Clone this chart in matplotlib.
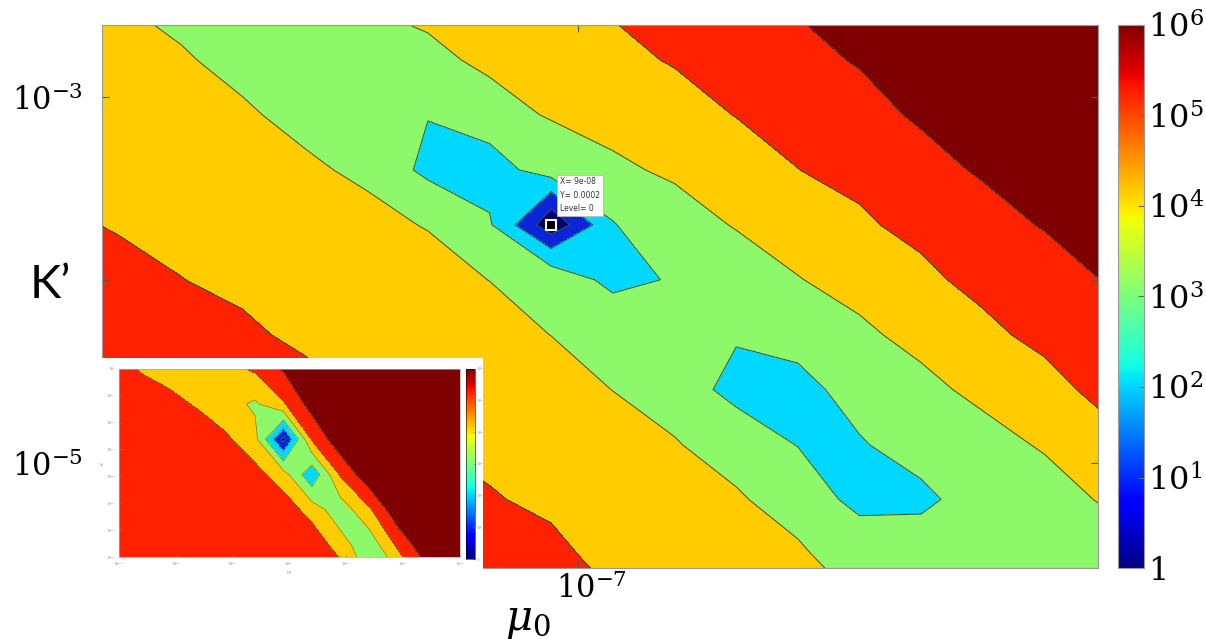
import numpy as np
import matplotlib.pyplot as plt
from matplotlib.colors import LogNorm
from matplotlib.cm import ScalarMappable
from matplotlib.ticker import NullLocator
import matplotlib.transforms as mtransforms

plt.rcParams['mathtext.fontset'] = 'dejavuserif'

# main misfit map: log10(misfit), rows top -> bottom
mu_steps = np.arange(-8, 10)
K_steps = np.arange(4, -8, -1)
mu = 9e-8 * 10 ** (0.1045 * mu_steps)
K = 2e-4 * 10 ** (0.3 * K_steps)
log_misfit = np.array([
    [4.21, 4.04, 3.67, 3.37, 3.71, 4.01, 4.23, 4.54, 4.85, 5.14, 5.46, 5.77, 6.10, 6.46, 6.70, 6.70, 6.70, 6.70],
    [4.44, 4.26, 4.09, 3.71, 3.32, 3.58, 3.84, 4.15, 4.45, 4.73, 5.09, 5.40, 5.73, 6.08, 6.57, 6.70, 6.70, 6.70],
    [4.66, 4.49, 4.32, 4.10, 3.76, 3.44, 3.05, 3.76, 4.06, 4.29, 4.61, 5.03, 5.36, 5.69, 6.14, 6.52, 6.70, 6.70],
    [4.89, 4.72, 4.54, 4.35, 4.11, 3.86, 2.70, 2.50, 3.60, 3.89, 4.11, 4.54, 4.99, 5.30, 5.71, 6.11, 6.47, 6.70],
    [5.11, 4.94, 4.78, 4.60, 4.37, 4.17, 3.96, 3.10, 0.25, 2.95, 3.76, 4.04, 4.47, 4.87, 5.29, 5.70, 6.06, 6.43],
    [5.33, 5.17, 5.01, 4.85, 4.63, 4.43, 4.23, 3.99, 3.63, 2.70, 3.10, 3.73, 3.97, 4.30, 4.81, 5.29, 5.66, 6.04],
    [5.56, 5.40, 5.24, 5.09, 4.88, 4.68, 4.48, 4.26, 3.99, 3.67, 3.44, 3.20, 3.68, 3.88, 4.22, 4.81, 5.25, 5.66],
    [5.78, 5.62, 5.47, 5.34, 5.14, 4.94, 4.74, 4.52, 4.28, 3.99, 3.74, 2.50, 2.55, 3.62, 3.85, 4.16, 4.74, 5.27],
    [5.80, 5.80, 5.70, 5.59, 5.40, 5.19, 4.99, 4.79, 4.57, 4.26, 4.03, 3.76, 2.95, 2.90, 3.60, 3.82, 4.06, 4.78],
    [5.80, 5.80, 5.80, 5.80, 5.65, 5.44, 5.25, 5.05, 4.85, 4.52, 4.27, 4.05, 3.78, 2.55, 2.75, 3.59, 3.80, 4.06],
    [5.80, 5.80, 5.80, 5.80, 5.80, 5.70, 5.50, 5.32, 5.14, 4.79, 4.50, 4.30, 4.06, 3.76, 3.49, 3.35, 3.57, 3.80],
    [5.80, 5.80, 5.80, 5.80, 5.80, 5.80, 5.75, 5.58, 5.42, 5.06, 4.73, 4.55, 4.31, 4.02, 3.74, 3.48, 3.34, 3.58],
])

# data tip
tip_mu, tip_K, tip_level = 9e-8, 2e-4, 0

# inset (wider view), log10 axes, rows top -> bottom
inset_mu_exp = -10.1 + 0.5 * np.arange(14)
inset_K_exp = -1.3125 * np.arange(7)
inset_log_misfit = np.array([
    [5.55, 4.87, 4.48, 4.30, 4.68, 5.16, 6.10, 6.70, 6.70, 6.70, 6.70, 6.70, 6.70, 6.70],
    [5.80, 5.80, 5.37, 4.85, 4.34, 3.85, 4.89, 6.42, 6.70, 6.70, 6.70, 6.70, 6.70, 6.70],
    [5.80, 5.80, 5.80, 5.80, 5.15, 4.31, 0.70, 5.10, 6.70, 6.70, 6.70, 6.70, 6.70, 6.70],
    [5.80, 5.80, 5.80, 5.80, 5.80, 5.34, 4.43, 2.20, 5.10, 6.70, 6.70, 6.70, 6.70, 6.70],
    [5.80, 5.80, 5.80, 5.80, 5.80, 5.80, 5.62, 4.55, 3.39, 4.80, 6.70, 6.70, 6.70, 6.70],
    [5.80, 5.80, 5.80, 5.80, 5.80, 5.80, 5.80, 5.80, 4.45, 3.30, 5.15, 6.70, 6.70, 6.70],
    [5.80, 5.80, 5.80, 5.80, 5.80, 5.80, 5.80, 5.80, 5.80, 3.90, 3.59, 5.40, 6.70, 6.70],
])

levels = [0, 1, 2, 3, 4, 5, 6, 7]
band_colors = ['#00006e', '#0a24d8', '#00d8ff', '#8cf86a', '#ffcc00', '#ff2200', '#7f0000']
cbar_ticks = [1, 10, 100, 1e3, 1e4, 1e5, 1e6]
cbar_labels = ['$1$', '$10^1$', '$10^2$', '$10^3$', '$10^4$', '$10^5$', '$10^6$']

W, H = 1206, 639
fig = plt.figure(figsize=(W / 100, H / 100), dpi=100)

# --- main map
ax = fig.add_axes([102 / W, 1 - 568 / H, 996 / W, 543 / H])
MU, KK = np.meshgrid(mu, K)
ax.contourf(MU, KK, log_misfit, levels=levels, colors=band_colors)
ax.contour(MU, KK, log_misfit, levels=levels[1:-1], colors='#35503a', linewidths=0.7)
ax.set_xscale('log')
ax.set_yscale('log')
ax.set_xlim(10 ** -7.807, 10 ** -6.119)
ax.set_ylim(10 ** -5.574, 10 ** -2.607)
ax.xaxis.set_minor_locator(NullLocator())
ax.yaxis.set_minor_locator(NullLocator())
ax.set_xticks([1e-7])
ax.set_xticklabels(['$10^{-7}$'])
ax.set_yticks([1e-5, 1e-4, 1e-3])
ax.set_yticklabels(['$10^{-5}$', '', '$10^{-3}$'])
ax.tick_params(direction='in', length=5, width=0.8, color='#555555', top=True, right=True, labelsize=22)
ax.tick_params(axis='y', pad=14)
ax.tick_params(axis='x', pad=3)
shift = mtransforms.ScaledTranslation(13 / 100, 0, fig.dpi_scale_trans)
for lab in ax.get_xticklabels():
    lab.set_transform(lab.get_transform() + shift)
for s in ax.spines.values():
    s.set_edgecolor('#999999')
    s.set_linewidth(0.8)

# data tip
ax.plot(tip_mu, tip_K, marker='s', ms=7, mfc='black', mec='white', mew=1.5, zorder=5)
ax.annotate(f'X= {tip_mu:.0e}\nY= {tip_K:g}\nLevel= {tip_level}',
            xy=(tip_mu, tip_K), xytext=(9, 12), textcoords='offset pixels',
            ha='left', va='bottom', fontsize=5.5, linespacing=1.6, color='#333333',
            bbox=dict(boxstyle='square,pad=0.35', fc='white', ec='#bbbbbb', lw=0.6), zorder=6)

fig.text(50 / W, 1 - 285 / H, 'K’', fontsize=34, family='Lato', ha='center', va='center')
fig.text(528 / W, 1 - 620 / H, r'$\mu_0$', fontsize=30, ha='center', va='center')

# --- colorbar
cax = fig.add_axes([1118 / W, 1 - 568 / H, 26 / W, 543 / H])
cb = fig.colorbar(ScalarMappable(norm=LogNorm(1, 1e6), cmap='jet'), cax=cax)
cb.set_ticks(cbar_ticks)
cb.set_ticklabels(cbar_labels)
cax.yaxis.set_minor_locator(NullLocator())
cax.tick_params(direction='in', length=4, width=0.8, color='#666666', labelsize=23, pad=3)
cb.outline.set_edgecolor('#999999')
cb.outline.set_linewidth(0.8)

# --- inset
bg = fig.add_axes([90 / W, 1 - 575 / H, 393 / W, 217 / H])
bg.set_xticks([])
bg.set_yticks([])
for s in bg.spines.values():
    s.set_visible(False)
bg.set_facecolor('white')

iax = fig.add_axes([118.7 / W, 1 - 557 / H, 341 / W, 188.3 / H])
iax.contourf(inset_mu_exp, inset_K_exp, inset_log_misfit, levels=levels, colors=band_colors)
iax.contour(inset_mu_exp, inset_K_exp, inset_log_misfit, levels=levels[1:-1], colors='#4a7a4a', linewidths=0.4)
iax.set_xlim(-10, -4)
iax.set_ylim(-7, 0)
iax.set_xticks(range(-10, -3))
iax.set_xticklabels([f'$10^{{{n}}}$' for n in range(-10, -3)])
iax.set_yticks(range(-7, 1))
iax.set_yticklabels([f'$10^{{{n}}}$' for n in range(-7, 1)])
iax.tick_params(direction='in', length=1.5, width=0.4, labelsize=2.5, labelcolor='#888888', color='#888888')
iax.tick_params(axis='x', pad=2.5)
iax.tick_params(axis='y', pad=2)
iax.set_xlabel(r'$\mu_0$', fontsize=3, labelpad=1, color='#888888')
iax.set_ylabel('K’', fontsize=3, labelpad=1, color='#888888')
for s in iax.spines.values():
    s.set_edgecolor('#aaaaaa')
    s.set_linewidth(0.5)

icax = fig.add_axes([466.3 / W, 1 - 558.7 / H, 8.4 / W, 190 / H])
icb = fig.colorbar(ScalarMappable(norm=LogNorm(1, 1e6), cmap='jet'), cax=icax)
icb.set_ticks(cbar_ticks)
icb.set_ticklabels(cbar_labels)
icax.yaxis.set_minor_locator(NullLocator())
icax.tick_params(direction='in', length=1.5, width=0.4, labelsize=2.5, labelcolor='#888888', pad=1, color='#888888')
icb.outline.set_linewidth(0.4)

fig.savefig('out.png', dpi=100)
